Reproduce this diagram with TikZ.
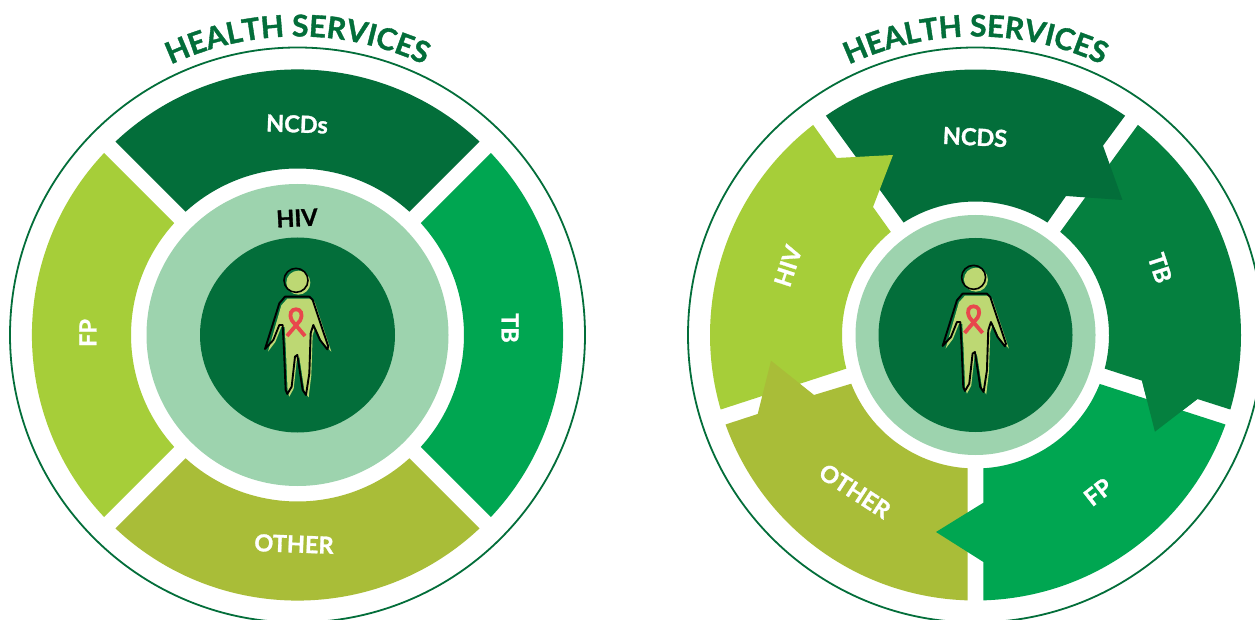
\documentclass[tikz,border=0pt]{standalone}
\usepackage{fontspec}
\setmainfont[FakeBold=1.2]{Lato}
\usetikzlibrary{decorations.text,calc}
\definecolor{dk}{HTML}{036E3A}
\definecolor{tbg}{HTML}{05803F}
\definecolor{brt}{HTML}{00A651}
\definecolor{lime}{HTML}{A6CE39}
\definecolor{olv}{HTML}{A9BD38}
\definecolor{pale}{HTML}{9DD3AE}
\definecolor{skin}{HTML}{BDD873}
\definecolor{rib}{HTML}{E8474C}
\newfontfamily\titlefont[FakeBold=1.2]{Lato}
\tikzset{
  lab/.style={font=\fontsize{23.5}{24}\selectfont\bfseries,text=white,inner sep=0pt},
  ringline/.style={draw=dk,line width=1.8pt},
}
% plain sector, left wheel, centred on 45/135/... gaps
\newcommand{\plainsec}[2]{% colour, middle angle
  \fill[#1] (297.5,284) ++({#2+43.28}:265.6) arc[start angle={#2+43.28},end angle={#2-43.28},radius=265.6pt]
    -- ($(297.5,284)+({#2-42.24}:166.5)$) arc[start angle={#2-42.24},end angle={#2+42.24},radius=166.5pt] -- cycle;
}
\newcommand{\personfig}[2]{% shift x, shift y
  \begin{scope}[shift={(#1,#2)},x=0.3333pt,y=-0.3333pt,line join=round,line cap=round]
    \fill[skin] (235,248) circle[radius=12pt];
    \fill[skin] (202,296) -- (274,296) -- (284,306) -- (334,455) -- (306,426) -- (286,381) -- (278,406) -- (274,526) -- (266,592) -- (254,576) -- (238,471) -- (231,476) -- (221,566) -- (208,590) -- (203,576) -- (198,456) -- (194,381) -- (184,381) -- (166,426) -- (144,455) -- (184,316) -- cycle;
    \draw[black,line width=1.6pt] (228,241) circle[radius=12pt];
    \draw[black,line width=1.9pt] (195,290) -- (268,290) -- (278,300) -- (325,440) -- (322,448) -- (300,420) -- (280,375) -- (272,400) -- (268,520) -- (258,585) -- (248,570) -- (232,465) -- (225,470) -- (215,560) -- (202,582) -- (197,570) -- (192,450) -- (188,375) -- (178,375) -- (160,420) -- (135,447) -- (178,310) -- cycle;
    \draw[rib,line width=3.8pt,line cap=butt,line join=miter] (255,408) -- (216,362) .. controls (205,340) and (215,328) .. (228,328) .. controls (241,328) and (251,340) .. (240,362) -- (201,408);
  \end{scope}
}
\begin{document}
\begin{tikzpicture}[x=1pt,y=1pt]
\useasboundingbox (0,0) rectangle (1255,619);
\clip (0,0) rectangle (1255,619);
\fill[white] (0,0) rectangle (1255,619);
% ---------- left wheel
\coordinate (cl) at (297.5,284);
\draw[ringline] (cl) circle[radius=287.5pt];
\plainsec{dk}{90}
\plainsec{brt}{0}
\plainsec{olv}{270}
\plainsec{lime}{180}
\fill[pale] (cl) circle[radius=151pt];
\fill[dk] (cl) circle[radius=97.5pt];
\personfig{220}{419}
\path[decorate,decoration={text along path,text align={center},text color=dk,
  text={|\titlefont\fontsize{30}{30}\selectfont\bfseries|HEALTH SERVICES}}]
  (cl) ++(150:298.5) arc[start angle=150,end angle=30,radius=298.5pt];
\node[lab,rotate=-2] (ncdsL) at (297,495) {NCDs};
\node[lab,rotate=-90] (tbL) at (510,291) {TB};
\node[lab,rotate=90] (fpL) at (88,286) {FP};
\node[lab,rotate=-2] (otherL) at (294,75) {OTHER};
\node[lab,text=black,rotate=3] (hivL) at (297,401) {HIV};
% ---------- right wheel
\coordinate (cr) at (975.5,284);
\draw[ringline] (cr) circle[radius=287.5pt];
% TB
\fill[tbg] (cr) ++(52.3:265.5) arc[start angle=52.3,end angle=-16.3,radius=265.5pt]
  -- (1197.4,220) -- (1154.9,187.3) -- (1142,238.3)
  -- ($(cr)+(-14.6:133.5)$) arc[start angle=-14.6,end angle=50.6,radius=133.5pt] -- cycle;
% NCDS
\fill[dk] (cr) ++(124.3:265.5) arc[start angle=124.3,end angle=55.7,radius=265.5pt]
  -- (1103,473.3) -- (1122.4,419) -- (1066,423)
  -- ($(cr)+(57.4:133.5)$) arc[start angle=57.4,end angle=122.6,radius=133.5pt] -- cycle;
% HIV
\fill[lime] (cr) ++(196.3:265.5) arc[start angle=196.3,end angle=127.7,radius=265.5pt]
  -- (836.7,461) -- (893,464) -- (873,412)
  -- ($(cr)+(129.4:133.5)$) arc[start angle=129.4,end angle=194.6,radius=133.5pt] -- cycle;
% OTHER
\fill[olv] (cr) ++(268.3:265.5) arc[start angle=268.3,end angle=199.7,radius=265.5pt]
  -- (757.7,205) -- (771,258.3) -- (814,224)
  -- ($(cr)+(201.4:133.5)$) arc[start angle=201.4,end angle=266.6,radius=133.5pt] -- cycle;
% FP
\fill[brt] (cr) ++(-19.7:265.5) arc[start angle=-19.7,end angle=-88.3,radius=265.5pt]
  -- (983.4,57) -- (936,87) -- (983.4,116.3)
  -- ($(cr)+(-86.6:133.5)$) arc[start angle=-86.6,end angle=-21.5,radius=133.5pt] -- cycle;
% TB head again, over FP
\fill[tbg] (1197.4,220) -- (1154.9,187.3) -- (1142,238.3) -- (1142,250) -- (1197.4,250) -- cycle;
\fill[pale] (cr) circle[radius=120pt];
\fill[dk] (cr) circle[radius=97pt];
\personfig{897.6}{422}
\path[decorate,decoration={text along path,text align={center},text color=dk,
  text={|\titlefont\fontsize{30}{30}\selectfont\bfseries|HEALTH SERVICES}}]
  (cr) ++(150:298.5) arc[start angle=150,end angle=30,radius=298.5pt];
\node[lab,rotate=-3] (ncdsR) at (975,482) {NCDS};
\node[lab,rotate=-72] (tbR) at (1160,351) {TB};
\node[lab,rotate=72] (hivR) at (788,353) {HIV};
\node[lab,rotate=-33] (otherR) at (855,128) {OTHER};
\node[lab,rotate=38] (fpR) at (1098,127) {FP};
\end{tikzpicture}
\end{document}
